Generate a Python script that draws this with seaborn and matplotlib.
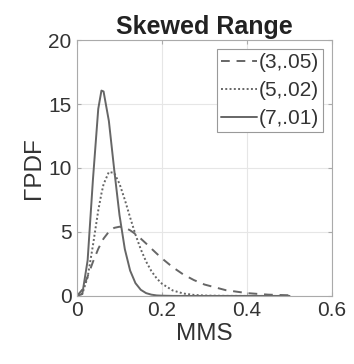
import numpy as np
import pandas as pd
import matplotlib
matplotlib.use("Agg")
import matplotlib.pyplot as plt
import seaborn as sns

# Values
mms = [0, 0.0125, 0.025, 0.0375, 0.05, 0.0575, 0.0625, 0.075, 0.0875, 0.1, 0.1125,
       0.125, 0.1375, 0.15, 0.1625, 0.175, 0.1875, 0.2, 0.225, 0.25, 0.275,
       0.3, 0.35, 0.4, 0.45, 0.5]
pdf_3_05 = [0, 0.49, 1.52, 2.66, 3.68, 4.17, 4.48, 5.02, 5.32, 5.41, 5.34,
            5.13, 4.84, 4.48, 4.10, 3.70, 3.31, 2.93, 2.25, 1.68, 1.24,
            0.89, 0.45, 0.22, 0.10, 0.05]
pdf_5_02 = [0, 0.17, 1.46, 3.95, 6.68, 8.00, 8.73, 9.69, 9.61, 8.77, 7.52,
            6.13, 4.80, 3.65, 2.69, 1.94, 1.37, 0.95, 0.43, 0.19, 0.08,
            0.03, 0.005, 0.0, 0.0, 0.0]
pdf_7_01 = [0, 0.15, 2.78, 9.09, 14.62, 16.05, 15.98, 13.67, 9.88, 6.31, 3.66,
            1.98, 1.00, 0.48, 0.22, 0.10, 0.04, 0.02, 0.003, 0.0, 0.0,
            0.0, 0.0, 0.0, 0.0, 0.0]
labels = ["(3,.05)", "(5,.02)", "(7,.01)"]
x_ticks = [0, 0.2, 0.4, 0.6]
x_tick_labels = ["0", "0.2", "0.4", "0.6"]
y_ticks = [0, 5, 10, 15, 20]

sns.set_style("ticks")
plt.rcParams['font.family'] = ['Liberation Sans', 'DejaVu Sans']

fig = plt.figure(figsize=(3.54, 3.64), dpi=100)
ax = fig.add_axes([0.2175, 0.187, 0.7205, 0.703])

line_col = "#666666"
styles = [(0, (4.5, 3.5)), (0, (1, 1.2)), "-"]
for vals, lab, ls in zip([pdf_3_05, pdf_5_02, pdf_7_01], labels, styles):
    df = pd.DataFrame({"MMS": mms, "PDF": vals})
    sns.lineplot(data=df, x="MMS", y="PDF", ax=ax, color=line_col,
                 linestyle=ls, linewidth=1.4, label=lab)

ax.set_xlim(0, 0.6)
ax.set_ylim(0, 20)
ax.set_xticks(x_ticks)
ax.set_xticklabels(x_tick_labels)
ax.set_yticks(y_ticks)
ax.grid(True, color="#e6e6e6", linewidth=0.8)
ax.set_axisbelow(True)
for s in ax.spines.values():
    s.set_color("#aaaaaa")
    s.set_linewidth(0.8)
ax.tick_params(direction="in", length=3, color="#aaaaaa", labelsize=15,
               labelcolor="#333333", top=True, right=True, pad=4)
ax.set_xlabel("MMS", fontsize=17.5, color="#333333", labelpad=2)
ax.set_ylabel("ΓPDF", fontsize=17.5, color="#333333", labelpad=2)
ax.set_title("Skewed Range", fontsize=18, fontweight="bold", color="#222222", pad=4)

leg = ax.legend(loc="upper right", fontsize=15, frameon=True, fancybox=False,
                framealpha=1, edgecolor="#999999", handlelength=1.7,
                handletextpad=0.08, borderpad=0.22, labelspacing=0.42,
                borderaxespad=0.42)
leg.get_frame().set_linewidth(0.8)
for t in leg.get_texts():
    t.set_color("#333333")

fig.savefig("out.png", dpi=100)
